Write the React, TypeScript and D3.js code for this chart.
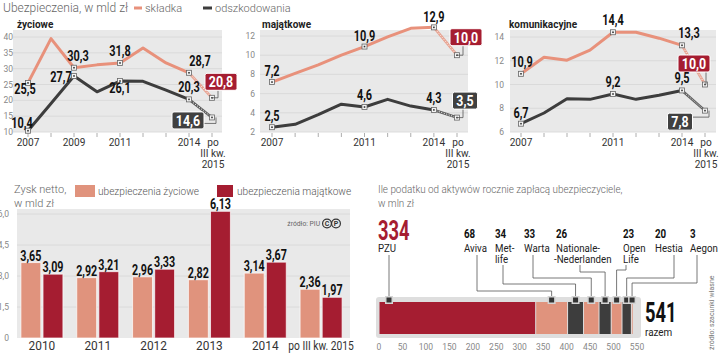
import React from 'react';
import * as d3 from 'd3';

// ---- line charts: Ubezpieczenia, w mld zł ----
const years = ['2007', '2008', '2009', '2010', '2011', '2012', '2013', '2014', 'po III kw. 2015'];
const lifePremium = [25.5, 39.5, 30.3, 31.2, 31.8, 36.5, 31.8, 28.7, 20.8];
const lifeClaims = [10.4, 19.0, 27.7, 22.7, 26.1, 26.0, 23.2, 20.3, 14.6];
const propPremium = [7.2, 8.1, 9.0, 10.0, 10.9, 11.9, 12.8, 12.9, 10.0];
const propClaims = [2.5, 2.8, 3.8, 4.9, 4.6, 5.4, 4.7, 4.3, 3.5];
const motorPremium = [10.9, 12.3, 12.05, 12.9, 14.4, 14.4, 13.9, 13.3, 10.0];
const motorClaims = [6.7, 7.6, 8.8, 8.75, 9.2, 8.75, 9.1, 9.5, 7.8];

// ---- bar chart: Zysk netto, w mld zł ----
const profitYears = ['2010', '2011', '2012', '2013', '2014', 'po III kw. 2015'];
const profitLife = [3.65, 2.92, 2.96, 2.82, 3.14, 2.36];
const profitProperty = [3.09, 3.21, 3.33, 6.13, 3.67, 1.97];
const profitTicks = [0, 1.5, 3, 4.5, 6];

// ---- stacked bar: podatek od aktywów, w mln zł ----
const insurers = ['PZU', 'Aviva', 'Met-life', 'Warta', 'Nationale--Nederlanden', 'Open Life', 'Hestia', 'Aegon'];
const insurerLines = [['PZU'], ['Aviva'], ['Met-', 'life'], ['Warta'], ['Nationale-', '-Nederlanden'], ['Open', 'Life'], ['Hestia'], ['Aegon']];
const taxValues = [334, 68, 34, 33, 26, 23, 20, 3];
const taxTicks = [0, 50, 100, 150, 200, 250, 300, 350, 400, 450, 500, 550];

const SALMON = '#e8917b';
const SALMON_BAR = '#e0937d';
const RED = '#a51d31';
const DARK = '#3d3d3d';
const BG = '#e9e9e9';
const GRID = '#d6d6d6';
const SANS = "Roboto, 'Open Sans', sans-serif";

const fmt = (v: number, d = 1) => v.toFixed(d).replace('.', ',');

// text squeezed horizontally (the original uses a condensed face)
function T({ x, y, sx = 1, anchor = 'start', size = 11, weight = 400, fill = '#222', children }:
  { x: number; y: number; sx?: number; anchor?: string; size?: number; weight?: number | string; fill?: string; children: React.ReactNode }) {
  return (
    <text transform={`translate(${x},${y}) scale(${sx},1)`} textAnchor={anchor} fontFamily={SANS}
      fontSize={size} fontWeight={weight} fill={fill}>{children}</text>
  );
}

type Lab = { i: number; dx: number; dy: number };
type Badge = { dx: number; dy: number };

const panels = [
  {
    title: 'życiowe', titleX: 17, prem: lifePremium, claims: lifeClaims,
    domain: [10, 40], ticks: [10, 15, 20, 25, 30, 35, 40], xr: [28, 212], yr: [132, 37],
    bg: [13, 222], tickX: 13, yearLabels: [0, 2, 4, 7, 8],
    premLabels: [{ i: 0, dx: -3, dy: 11 }, { i: 2, dx: 4, dy: -7 }, { i: 4, dx: 0, dy: -7 }, { i: 7, dx: 11, dy: -7 }],
    claimLabels: [{ i: 0, dx: -6, dy: -3 }, { i: 2, dx: -13, dy: 6 }, { i: 4, dx: 0, dy: 12 }, { i: 7, dx: 0, dy: -7 }],
    premBadge: { dx: 9, dy: -16 }, claimBadge: { dx: -24, dy: 3 },
  },
  {
    title: 'majątkowe', titleX: 262, prem: propPremium, claims: propClaims,
    domain: [2, 12], ticks: [2, 4, 6, 8, 10, 12], xr: [272, 457], yr: [132, 36],
    bg: [260, 468], tickX: 255, yearLabels: [0, 4, 7, 8],
    premLabels: [{ i: 0, dx: 0, dy: -6 }, { i: 4, dx: 0, dy: -6 }, { i: 7, dx: 0, dy: -5 }],
    claimLabels: [{ i: 0, dx: 0, dy: -6 }, { i: 4, dx: 0, dy: -7 }, { i: 7, dx: 0, dy: -7 }],
    premBadge: { dx: 9, dy: -18 }, claimBadge: { dx: 8, dy: -17 },
  },
  {
    title: 'komunikacyjne', titleX: 509, prem: motorPremium, claims: motorClaims,
    domain: [6, 14], ticks: [6, 8, 10, 12, 14], xr: [521, 705], yr: [132, 37],
    bg: [510, 716], tickX: 504, yearLabels: [0, 4, 7, 8],
    premLabels: [{ i: 0, dx: 1, dy: -7 }, { i: 4, dx: 0, dy: -7 }, { i: 7, dx: 7, dy: -7 }],
    claimLabels: [{ i: 0, dx: 0, dy: -6 }, { i: 4, dx: 0, dy: -7 }, { i: 7, dx: 0, dy: -7 }],
    premBadge: { dx: -11, dy: -21 }, claimBadge: { dx: -25, dy: 11 },
  },
];

function PointMark({ x, y }: { x: number; y: number }) {
  return (
    <g>
      <rect x={x - 2.5} y={y - 2.5} width={5} height={5} fill="#f4f4f4" stroke="#666" strokeWidth={0.8} />
      <rect x={x - 0.8} y={y - 0.8} width={1.6} height={1.6} fill="#333" />
    </g>
  );
}

function BadgeMark({ px, py, b, value, color }: { px: number; py: number; b: Badge; value: number; color: string }) {
  const t = fmt(value);
  const w = t.length * 7 + 4;
  const h = 17;
  const bx = px + b.dx - w / 2;
  const by = py + b.dy - h / 2;
  let d: string;
  if (by + h < py - 2) {
    const cx = Math.min(Math.max(px + 6, bx + 4), bx + w - 4);
    d = `M${cx},${by + h}V${py}H${px}`;
  } else {
    const cy = Math.min(Math.max(py + 6, by + 4), by + h - 4);
    d = `M${bx + w},${cy}H${px + 4}V${py}`;
  }
  return (
    <g>
      <path d={d} fill="none" stroke="#555" strokeWidth={0.8} />
      <rect x={bx} y={by} width={w} height={h} rx={2} fill={color} stroke="#fff" strokeWidth={1} />
      <T x={bx + w / 2} y={by + h - 3} anchor="middle" sx={0.8} size={15.5} weight="bold" fill="#fff">{t}</T>
    </g>
  );
}

function LinePanel({ p }: { p: (typeof panels)[number] }) {
  const x = d3.scaleLinear().domain([0, years.length - 1]).range(p.xr);
  const y = d3.scaleLinear().domain(p.domain).range(p.yr);
  const line = d3.line<number>().x((_, i) => x(i)).y((d) => y(d));
  const last = years.length - 1;
  const series = [
    { data: p.prem, color: SALMON, labels: p.premLabels, badge: p.premBadge, badgeColor: RED },
    { data: p.claims, color: DARK, labels: p.claimLabels, badge: p.claimBadge, badgeColor: '#404040' },
  ];
  return (
    <g>
      <T x={p.titleX} y={28} size={10} weight="bold" fill="#222">{p.title}</T>
      <rect x={p.bg[0]} y={30} width={p.bg[1] - p.bg[0]} height={p.yr[0] - 30} fill={BG} />
      {p.ticks.map((t) => (
        <g key={t}>
          <line x1={p.bg[0]} x2={p.bg[1]} y1={y(t)} y2={y(t)} stroke={GRID} strokeWidth={0.8} />
          <T x={p.tickX} y={y(t) + 3} anchor="end" size={8.5} fill="#888">{t}</T>
        </g>
      ))}
      {years.map((_, i) => (
        <line key={i} x1={x(i)} x2={x(i)} y1={p.yr[0] + 1} y2={p.yr[0] + 5} stroke="#999" strokeWidth={0.8} />
      ))}
      {p.yearLabels.map((i) => {
        if (i === last) {
          return (
            <g key={i}>
              <T x={x(i) + 1} y={146} anchor="middle" size={11} sx={0.92} fill="#333">po</T>
              <T x={x(i) + 1} y={157} anchor="middle" size={11} sx={0.92} fill="#333">III kw.</T>
              <T x={x(i) + 1} y={168} anchor="middle" size={11} sx={0.92} fill="#333">2015</T>
            </g>
          );
        }
        return <T key={i} x={x(i)} y={146} anchor="middle" size={11} sx={0.92} fill="#333">{years[i]}</T>;
      })}
      {series.map((s, k) => (
        <g key={k}>
          <path d={line(s.data.slice(0, last)) || ''} fill="none" stroke={s.color} strokeWidth={3} strokeLinejoin="round" />
          <line x1={x(last - 1)} y1={y(s.data[last - 1])} x2={x(last)} y2={y(s.data[last])}
            stroke={s.color} strokeWidth={2.6} opacity={0.8} />
          <line x1={x(last - 1)} y1={y(s.data[last - 1])} x2={x(last)} y2={y(s.data[last])}
            stroke="#fff" strokeWidth={1} strokeDasharray="1,1.6" />
        </g>
      ))}
      {series.map((s, k) => (
        <g key={k}>
          {s.labels.map((l: Lab) => (
            <g key={l.i}>
              <PointMark x={x(l.i)} y={y(s.data[l.i])} />
              <T x={x(l.i) + l.dx} y={y(s.data[l.i]) + l.dy} anchor="middle" sx={0.78} size={14}
                weight="bold" fill="#111">{fmt(s.data[l.i])}</T>
            </g>
          ))}
          <PointMark x={x(last)} y={y(s.data[last])} />
          <BadgeMark px={x(last)} py={y(s.data[last])} b={s.badge} value={s.data[last]} color={s.badgeColor} />
        </g>
      ))}
    </g>
  );
}

function ProfitChart() {
  const x = d3.scaleBand().domain(profitYears).range([14, 349]);
  const inner = d3.scaleBand().domain(['life', 'prop']).range([-21, 21]).paddingInner(0.1);
  const y = d3.scaleLinear().domain([0, 6]).range([338, 214]);
  const cx = (c: string) => (x(c) || 0) + x.bandwidth() / 2;
  const groups = [
    { key: 'life', data: profitLife, color: SALMON_BAR },
    { key: 'prop', data: profitProperty, color: RED },
  ];
  return (
    <g>
      <T x={14} y={193} size={11} weight={300} fill="#666">Zysk netto,</T>
      <T x={14} y={207} size={11} weight={300} fill="#666">w mld zł</T>
      <rect x={75} y={185} width={20} height={12} fill={SALMON_BAR} />
      <T x={98} y={195} size={11} sx={0.92} weight={300} fill="#555">ubezpieczenia życiowe</T>
      <rect x={217} y={185} width={16} height={12} fill={RED} />
      <T x={237} y={195} size={11} sx={0.92} weight={300} fill="#555">ubezpieczenia majątkowe</T>
      <rect x={17} y={209} width={333} height={129} fill={BG} />
      {profitTicks.map((t) => (
        <g key={t}>
          {t > 0 && <line x1={17} x2={350} y1={y(t)} y2={y(t)} stroke={GRID} strokeWidth={0.8} />}
          <T x={9} y={y(t) + 3} anchor="end" size={8.5} fill="#888">{t === 0 ? '0' : fmt(t)}</T>
        </g>
      ))}
      <T x={320} y={226} anchor="end" size={7.5} sx={0.9} fill="#666">źródło: PIU</T>
      <circle cx={327} cy={223.5} r={4.4} fill="none" stroke="#333" strokeWidth={1.2} />
      <T x={327} y={226.2} anchor="middle" size={7} weight="bold" fill="#333">C</T>
      <circle cx={336} cy={223.5} r={4.4} fill="none" stroke="#333" strokeWidth={1.2} />
      <T x={336} y={226.2} anchor="middle" size={7} weight="bold" fill="#333">P</T>
      {profitYears.map((c, i) => (
        <g key={c}>
          {groups.map((g) => {
            const bx = cx(c) + (inner(g.key) || 0);
            const v = g.data[i];
            return (
              <g key={g.key}>
                <rect x={bx} y={y(v)} width={inner.bandwidth()} height={y(0) - y(v)} fill={g.color}
                  stroke="#fff" strokeOpacity={0.7} strokeWidth={1} />
                <T x={bx + inner.bandwidth() / 2} y={y(v) - 2} anchor="middle" sx={0.74} size={14.5}
                  weight="bold" fill="#111">{fmt(v, 2)}</T>
              </g>
            );
          })}
          <T x={cx(c)} y={350} anchor="middle" size={12.5} sx={c.length > 4 ? 0.82 : 0.95} fill="#333">{c}</T>
        </g>
      ))}
    </g>
  );
}

function TaxChart() {
  const x = d3.scaleLinear().domain([0, 550]).range([379, 637]);
  const ends = Array.from(d3.cumsum(taxValues));
  const starts = ends.map((e, i) => e - taxValues[i]);
  const colors = [RED, SALMON_BAR, DARK, SALMON_BAR, DARK, SALMON_BAR, DARK, SALMON_BAR];
  const total = d3.sum(taxValues);
  // annotation layout
  const labelX = [378, 464, 495, 524, 556, 623, 655, 690];
  const leaderX = [389, 477, 503, 533, 580, 626, 674, 697];
  const elbowY = [0, 291, 284, 278, 272, 270, 278, 283];
  const markX = taxValues.map((v, i) => (i === 0 ? x(starts[i]) + 10 : x(starts[i] + v / 2)));
  const barTop = 302;
  const barBottom = 334;
  return (
    <g>
      <T x={378} y={193} size={11} sx={0.9} weight={300} fill="#666">Ile podatku od aktywów rocznie zapłacą ubezpieczyciele,</T>
      <T x={378} y={207} size={11} sx={0.9} weight={300} fill="#666">w mln zł</T>
      <rect x={376} y={297} width={265} height={41} rx={3} fill="#dedede" />
      {taxValues.map((v, i) => (
        <rect key={insurers[i]} x={x(starts[i]) + 0.5} y={barTop} width={Math.max(x(ends[i]) - x(starts[i]) - 1, 0.8)}
          height={barBottom - barTop} fill={colors[i]} />
      ))}
      {taxValues.map((v, i) => {
        const lines = insurerLines[i];
        const startY = lines.length > 1 ? 265 : 255;
        const d = i === 0
          ? `M${leaderX[i]},${startY}V${barTop - 3}`
          : `M${leaderX[i]},${startY}V${elbowY[i]}H${markX[i]}V${barTop - 3}`;
        return (
          <g key={insurers[i]}>
            <path d={d} fill="none" stroke="#555" strokeWidth={0.8} />
            <rect x={markX[i] - 4} y={barTop - 6} width={8} height={8} fill="#d4d4d4" />
            <rect x={markX[i] - 2.5} y={barTop - 4.5} width={5} height={5} fill="#333" />
            {i === 0 ? (
              <T x={labelX[i]} y={240} sx={0.68} size={27} weight="bold" fill={RED}>{v}</T>
            ) : (
              <T x={labelX[i]} y={238} sx={0.75} size={13} weight="bold" fill="#111">{v}</T>
            )}
            {lines.map((ln, j) => (
              <T key={j} x={labelX[i] - (ln.startsWith('-') ? 2 : 0)} y={252 + j * 11} size={11} sx={0.88} fill="#222">{ln}</T>
            ))}
          </g>
        );
      })}
      {taxTicks.map((t) => (
        <T key={t} x={x(t)} y={350} anchor="middle" size={8.5} fill="#888">{t}</T>
      ))}
      <T x={645} y={322} sx={0.68} size={27} weight="bold" fill="#111">{total}</T>
      <T x={645} y={336} size={11} sx={0.9} fill="#222">razem</T>
      <text transform="translate(714,350) rotate(-90)" fontFamily={SANS} fontSize={7} fill="#777">źródło: szacunki własne</text>
    </g>
  );
}

export default function App() {
  return (
    <svg width={720} height={354} viewBox="0 0 720 354"
      style={{ position: 'absolute', left: 0, top: 0, background: '#fff' }}>
      <T x={3} y={12} size={12} weight={300} fill="#666">Ubezpieczenia, w mld zł</T>
      <line x1={134} x2={142} y1={8} y2={8} stroke={SALMON} strokeWidth={3} />
      <T x={145} y={12} size={11} weight={300} fill="#666">składka</T>
      <line x1={203} x2={212} y1={8} y2={8} stroke={DARK} strokeWidth={3} />
      <T x={215} y={12} size={11} weight={300} fill="#666">odszkodowania</T>
      {panels.map((p) => (
        <LinePanel key={p.title} p={p} />
      ))}
      <ProfitChart />
      <TaxChart />
    </svg>
  );
}
